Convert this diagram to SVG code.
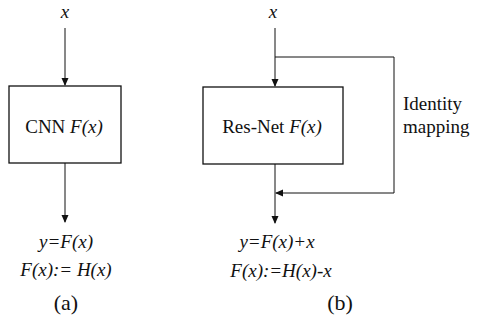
<svg xmlns="http://www.w3.org/2000/svg" width="488" height="325" viewBox="0 0 488 325">
<style>
text{font-size:19px;fill:#111}
.i{font-style:italic}
.box{fill:#fff;stroke:#111;stroke-width:1.3}
.ln{fill:none;stroke:#111;stroke-width:1}
</style>
<defs>
<marker id="ah" markerWidth="8" markerHeight="8" refX="7" refY="4" orient="auto" markerUnits="userSpaceOnUse">
<path d="M0,0.5 L8,4 L0,7.5 Z" fill="#111"/>
</marker>
</defs>
<g id="connectors">
<line class="ln" x1="65" y1="28" x2="65" y2="85" marker-end="url(#ah)"/>
<line class="ln" x1="65" y1="163" x2="65" y2="222" marker-end="url(#ah)"/>
<line class="ln" x1="275" y1="28" x2="275" y2="86" marker-end="url(#ah)"/>
<line class="ln" x1="275" y1="164" x2="275" y2="223" marker-end="url(#ah)"/>
<polyline class="ln" points="275,57 394,57 394,193 276,193" marker-end="url(#ah)"/>
</g>
<g font-family="Liberation Serif, DejaVu Serif, serif">
<g id="cnn">
<rect class="box" x="9" y="86" width="112" height="77"/>
<text x="64" y="133" text-anchor="middle">CNN <tspan class="i">F(x)</tspan></text>
</g>
<g id="resnet">
<rect class="box" x="203" y="87" width="140" height="77"/>
<text x="272" y="133" text-anchor="middle">Res-Net <tspan class="i">F(x)</tspan></text>
</g>
<g id="labels">
<text class="i" x="65" y="18" text-anchor="middle">x</text>
<text class="i" x="273" y="18" text-anchor="middle">x</text>
<text class="i" x="66" y="248" text-anchor="middle">y=F(x)</text>
<text class="i" x="66" y="276" text-anchor="middle">F(x):= H(x)</text>
<text x="66" y="310" text-anchor="middle" style="font-size:22px">(a)</text>
<text class="i" x="277" y="248" text-anchor="middle">y=F(x)+x</text>
<text class="i" x="281" y="277" text-anchor="middle">F(x):=H(x)-x</text>
<text x="340" y="310" text-anchor="middle" style="font-size:22px">(b)</text>
<text x="403" y="110">Identity</text>
<text x="403" y="133">mapping</text>
</g>
</g>
</svg>
